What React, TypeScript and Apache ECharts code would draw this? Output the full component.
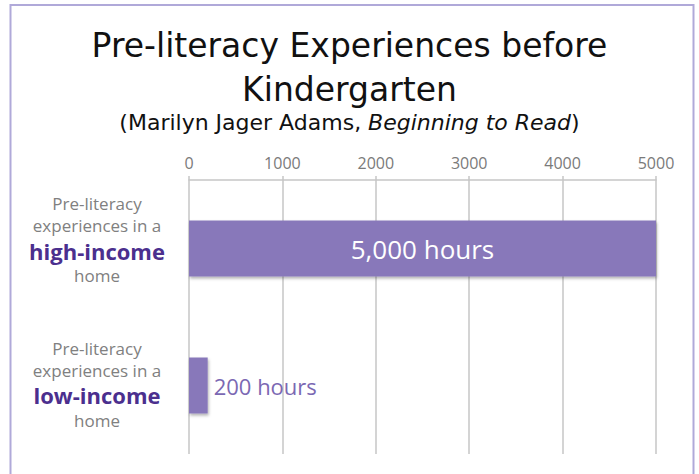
import React, { useEffect, useRef } from "react";
import * as echarts from "echarts";

const categories = ["high", "low"];
const categoryLabels = [
  "{g|Pre-literacy}\n{g|experiences in a}\n{b|high-income}\n{g|home}",
  "{g|Pre-literacy}\n{g|experiences in a}\n{b|low-income}\n{g|home}",
];
const hours = [5000, 200];
const valueLabels = ["5,000 hours", "200 hours"];
const tickMax = 5000;
const tickStep = 1000;

const FONT = "'Open Sans', 'Noto Sans', sans-serif";
const TFONT = "'DejaVu Sans', sans-serif";

const rich = {
  g: { fontFamily: FONT, fontSize: 17, color: "#808080", lineHeight: 22, align: "center" },
  b: { fontFamily: FONT, fontSize: 22, fontWeight: "bold", color: "#4B2F8E", lineHeight: 28, align: "center" },
};

export default function App() {
  const ref = useRef<HTMLDivElement>(null);
  useEffect(() => {
    if (!ref.current) return;
    const chart = echarts.init(ref.current, undefined, { renderer: "svg" });
    chart.setOption({
      animation: false,
      backgroundColor: "#ffffff",
      textStyle: { fontFamily: FONT },
      title: [
        {
          text: "Pre-literacy Experiences before",
          left: "center",
          top: 21,
          textStyle: { fontFamily: TFONT, fontSize: 33, fontWeight: "normal", color: "#111111", lineHeight: 38 },
        },
        {
          text: "Kindergarten",
          left: "center",
          top: 65,
          textStyle: { fontFamily: TFONT, fontSize: 33, fontWeight: "normal", color: "#111111", lineHeight: 38 },
        },
        {
          text: "(Marilyn Jager Adams, {i|Beginning to Read})",
          left: "center",
          top: 104,
          textStyle: {
            fontFamily: TFONT,
            fontSize: 22,
            fontWeight: "normal",
            color: "#111111",
            lineHeight: 26,
            rich: { i: { fontFamily: TFONT, fontSize: 22, fontStyle: "italic", color: "#111111" } },
          },
        },
      ],
      graphic: [
        {
          type: "rect",
          shape: { x: 10.5, y: 5, width: 683, height: 490 },
          style: { fill: "none", stroke: "#B0A9D9", lineWidth: 2 },
          silent: true,
        },
      ],
      grid: { left: 189, right: 43, top: 180, bottom: 20, containLabel: false, outerBoundsMode: "none" },
      xAxis: {
        type: "value",
        position: "top",
        min: 0,
        max: tickMax,
        interval: tickStep,
        axisLine: { show: true, lineStyle: { color: "#c6c6c6", width: 1.5 } },
        axisTick: { show: true, length: 4, lineStyle: { color: "#c6c6c6", width: 1.5 } },
        splitLine: { show: true, lineStyle: { color: "#c6c6c6", width: 1.5 } },
        axisLabel: { color: "#7a7a7a", fontSize: 16, margin: 9, fontFamily: FONT, formatter: (v: number) => String(v) },
      },
      yAxis: {
        type: "category",
        inverse: true,
        data: [
          { value: categories[0], textStyle: { align: "center", padding: [0, 0, 18, 0], rich } },
          { value: categories[1], textStyle: { align: "center", padding: [0, 0, 3, 0], rich } },
        ],
        axisLine: { show: false },
        axisTick: { show: false },
        axisLabel: {
          align: "center",
          margin: 92,
          formatter: (_v: string, i: number) => categoryLabels[i],
          rich,
        },
      },
      series: [
        {
          type: "bar",
          data: hours.map((v, i) => ({
            value: v,
            label:
              i === 0
                ? { show: true, position: "inside", color: "#ffffff", fontSize: 26, fontFamily: FONT, formatter: valueLabels[i] }
                : { show: true, position: "right", distance: 6, color: "#7B68B3", fontSize: 22, fontFamily: FONT, formatter: valueLabels[i] },
          })),
          barWidth: 56,
          itemStyle: {
            color: "#8878BA",
            shadowColor: "rgba(0,0,0,0.3)",
            shadowBlur: 3,
            shadowOffsetX: 1,
            shadowOffsetY: 2,
          },
        },
      ],
    });
    return () => chart.dispose();
  }, []);
  return <div ref={ref} style={{ position: "fixed", left: 0, top: 0, width: 699, height: 474 }} />;
}
